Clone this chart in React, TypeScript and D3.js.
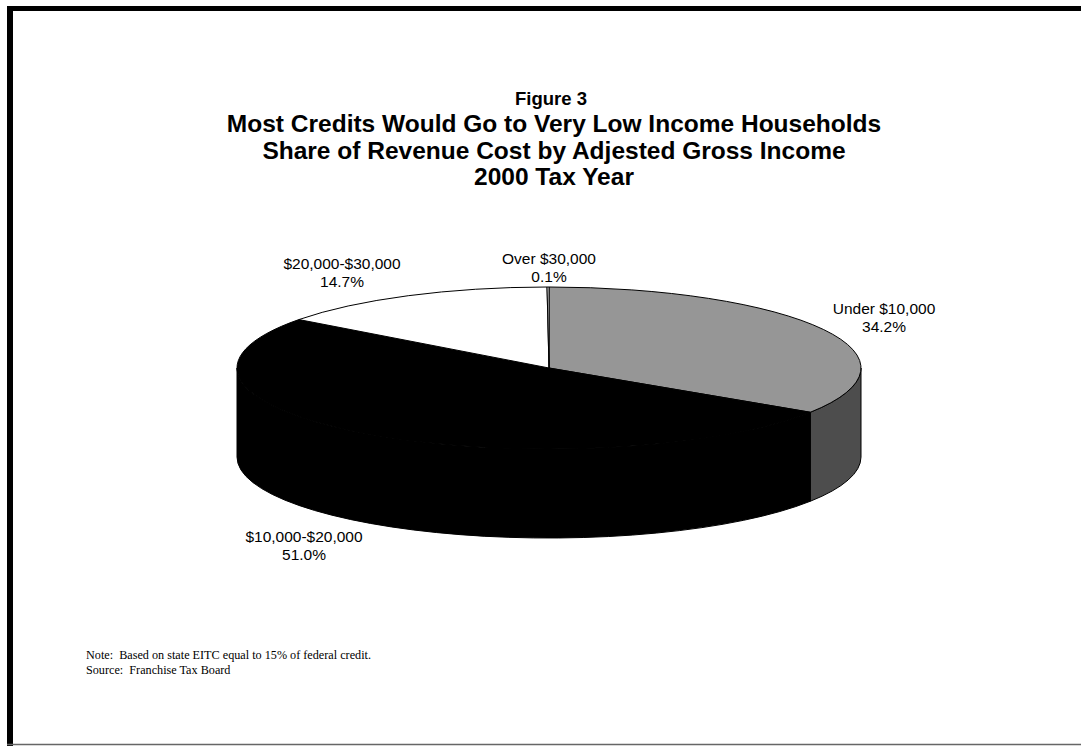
import React from "react";
import * as d3 from "d3";

const categories = ["Under $10,000", "$10,000-$20,000", "$20,000-$30,000", "Over $30,000"];
const shares = [34.2, 51.0, 14.7, 0.1];
const topColors = ["#969696", "#000000", "#ffffff", "#ffffff"];
const sideColors = ["#4d4d4d", "#000000", "#d0d0d0", "#d0d0d0"];
const titleLines = [
  "Most Credits Would Go to Very Low Income Households",
  "Share of Revenue Cost by Adjested Gross Income",
  "2000 Tax Year",
];
const noteLines = [
  "Note:  Based on state EITC equal to 15% of federal credit.",
  "Source:  Franchise Tax Board",
];
const labelPos = [
  { x: 884, y: 314 },
  { x: 304, y: 542 },
  { x: 342, y: 269 },
  { x: 549, y: 264 },
];

const W = 1081;
const H = 746;
const cx = 549;
const cy = 368;
const rx = 312;
const ry = 81;
const depth = 89;

function pt(a: number, dy = 0): [number, number] {
  return [cx + rx * Math.sin(a), cy - ry * Math.cos(a) + dy];
}

export default function App() {
  const pie = d3.pie<number>().sort(null).value((d) => d);
  const arcs = pie(shares);

  const tops = arcs.map((a, i) => {
    const [x0, y0] = pt(a.startAngle);
    const [x1, y1] = pt(a.endAngle);
    const large = a.endAngle - a.startAngle > Math.PI ? 1 : 0;
    return (
      <path
        key={"t" + i}
        d={`M${cx},${cy}L${x0},${y0}A${rx},${ry} 0 ${large} 1 ${x1},${y1}Z`}
        fill={topColors[i]}
        stroke="#000"
        strokeWidth={1}
        strokeLinejoin="round"
      />
    );
  });

  const sides = arcs.map((a, i) => {
    const s0 = Math.max(a.startAngle, Math.PI / 2);
    const s1 = Math.min(a.endAngle, (3 * Math.PI) / 2);
    if (s1 <= s0) return null;
    const [x0, y0] = pt(s0);
    const [x1, y1] = pt(s1);
    const [x2, y2] = pt(s1, depth);
    const [x3, y3] = pt(s0, depth);
    const large = s1 - s0 > Math.PI ? 1 : 0;
    return (
      <path
        key={"s" + i}
        d={`M${x0},${y0}A${rx},${ry} 0 ${large} 1 ${x1},${y1}L${x2},${y2}A${rx},${ry} 0 ${large} 0 ${x3},${y3}Z`}
        fill={sideColors[i]}
        stroke="#000"
        strokeWidth={1}
        strokeLinejoin="round"
      />
    );
  });

  return (
    <svg
      width={W}
      height={H}
      style={{ position: "absolute", left: 0, top: 0, background: "#fff" }}
      fontFamily="Liberation Sans, Arial, sans-serif"
    >
      <rect x={0} y={0} width={W} height={H} fill="#fff" />
      <line x1={7} y1={8.5} x2={W} y2={8.5} stroke="#000" strokeWidth={5} />
      <line x1={10} y1={6} x2={10} y2={H} stroke="#000" strokeWidth={6} />
      <line x1={7} y1={744.5} x2={W} y2={744.5} stroke="#666" strokeWidth={1.5} />

      <text x={551} y={105} textAnchor="middle" fontWeight="bold" fontSize={18.5}>
        Figure 3
      </text>
      {titleLines.map((t, i) => (
        <text key={t} x={554} y={132 + i * 26.5} textAnchor="middle" fontWeight="bold" fontSize={24.5}>
          {t}
        </text>
      ))}

      {sides}
      {tops}

      {arcs.map((a, i) => (
        <g key={"l" + i} fontSize={15.5} textAnchor="middle" fill="#000">
          <text x={labelPos[i].x} y={labelPos[i].y}>{categories[i]}</text>
          <text x={labelPos[i].x} y={labelPos[i].y + 18}>{shares[i].toFixed(1)}%</text>
        </g>
      ))}

      {noteLines.map((t, i) => (
        <text
          key={t}
          x={86}
          y={659 + i * 15}
          fontSize={12.2}
          fontFamily="Liberation Serif, serif"
          style={{ whiteSpace: "pre" }}
          xmlSpace="preserve"
        >
          {t}
        </text>
      ))}
    </svg>
  );
}
